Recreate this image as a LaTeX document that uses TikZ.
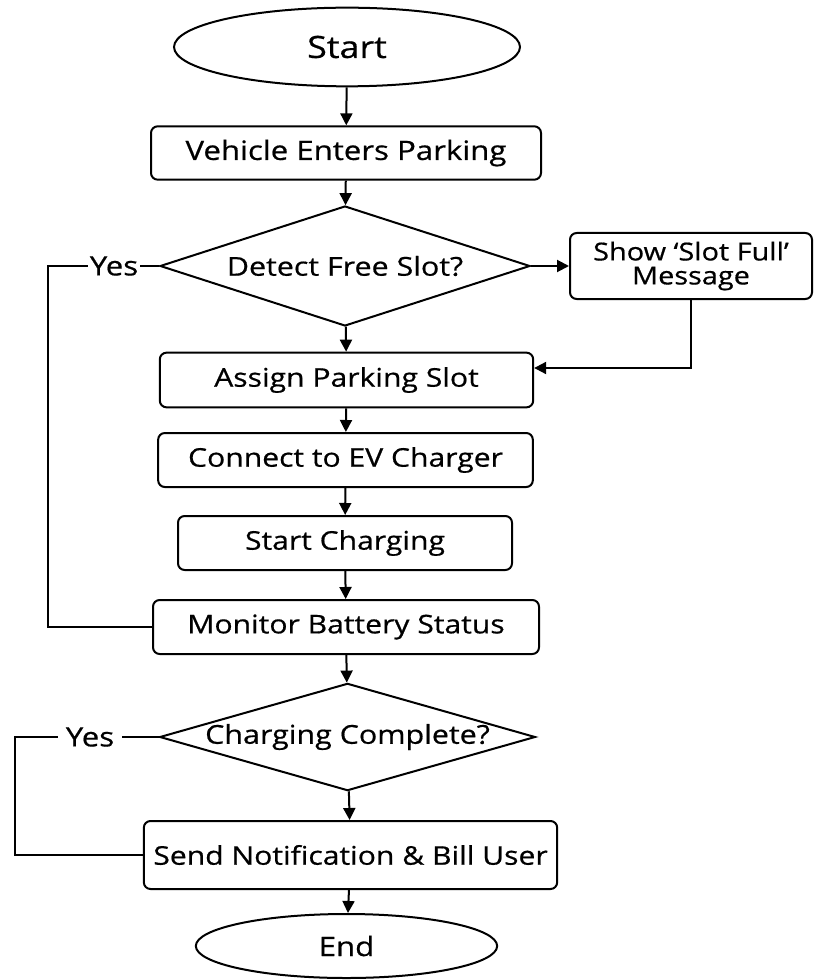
\documentclass[tikz,border=0pt]{standalone}
\usepackage{fontspec}
\setmainfont[FakeStretch=1.17,FakeBold=0.6]{Open Sans}
\usetikzlibrary{shapes.geometric,arrows.meta}
\begin{document}
\begin{tikzpicture}[x=0.75pt,y=-0.75pt,
  lw/.style={line width=1.5pt},
  box/.style={draw, lw, rounded corners=5pt, inner sep=0pt, align=center, font=\fontsize{19.3}{21}\selectfont},
  term/.style={draw, lw, ellipse, inner sep=0pt},
  dec/.style={draw, lw, diamond, inner sep=0pt, font=\fontsize{19.5}{21}\selectfont},
  lbl/.style={inner sep=1.5pt, font=\fontsize{20}{22}\selectfont},
  arr/.style={lw, -{Triangle[length=9pt,width=9pt]}},
  ln/.style={lw}]
\useasboundingbox[fill=white] (0,0) rectangle (814,980);

\node[term, minimum width=259.5pt, minimum height=59pt, font=\fontsize{23}{25}\selectfont] (start) at (347,47) {Start};
\node[box, minimum width=292.5pt, minimum height=40pt, font=\fontsize{20}{22}\selectfont] (vehicle) at (346,153) {Vehicle Enters Parking};
\node[dec, aspect=3.08, minimum width=277.5pt, minimum height=90pt] (d1) at (345,266) {Detect Free Slot?};
\node[box, minimum width=181.5pt, minimum height=49.5pt, font=\fontsize{18.5}{18}\selectfont] (show) at (691,266) {Show ‘Slot Full’\\Message};
\node[box, minimum width=280pt, minimum height=41pt] (assign) at (346.5,380) {Assign Parking Slot};
\node[box, minimum width=281pt, minimum height=40.5pt] (connect) at (345.5,460) {Connect to EV Charger};
\node[box, minimum width=250.5pt, minimum height=40.5pt] (charging) at (345,543) {Start Charging};
\node[box, minimum width=289.5pt, minimum height=40.5pt] (monitor) at (346,627) {Monitor Battery Status};
\node[dec, aspect=3.5, minimum width=280pt, minimum height=80pt] (d2) at (347.5,737) {Charging Complete?};
\node[box, minimum width=310pt, minimum height=51pt] (send) at (350.5,855) {Send Notification \& Bill User};
\node[term, minimum width=226pt, minimum height=48pt, font=\fontsize{20}{22}\selectfont] (end) at (346.5,946) {End};

\node[lbl] (yes1) at (114,266) {Yes};
\node[lbl, inner xsep=6pt] (yes2) at (90,737) {Yes};
\coordinate (c1) at (48,266);
\coordinate (c2) at (15,737);

\draw[arr] (start) -- (vehicle);
\draw[arr] (vehicle) -- (d1);
\draw[arr] (d1) -- (show);
\draw[arr] (d1) -- (assign);
\draw[arr] (show.south) |- ([yshift=9pt]assign.east);
\draw[arr] (assign) -- (connect);
\draw[arr] (connect) -- (charging);
\draw[arr] (charging) -- (monitor);
\draw[arr] (monitor) -- (d2);
\draw[arr] (d2) -- (send);
\draw[arr] (send) -- (end);

\draw[ln] (d1.west) -- (yes1.east);
\draw[ln] (yes1.west) -- (c1) |- (monitor.west);
\draw[ln] (d2.west) -- (yes2.east);
\draw[ln] (yes2.west) -- (c2) |- (send.west);
\end{tikzpicture}
\end{document}
